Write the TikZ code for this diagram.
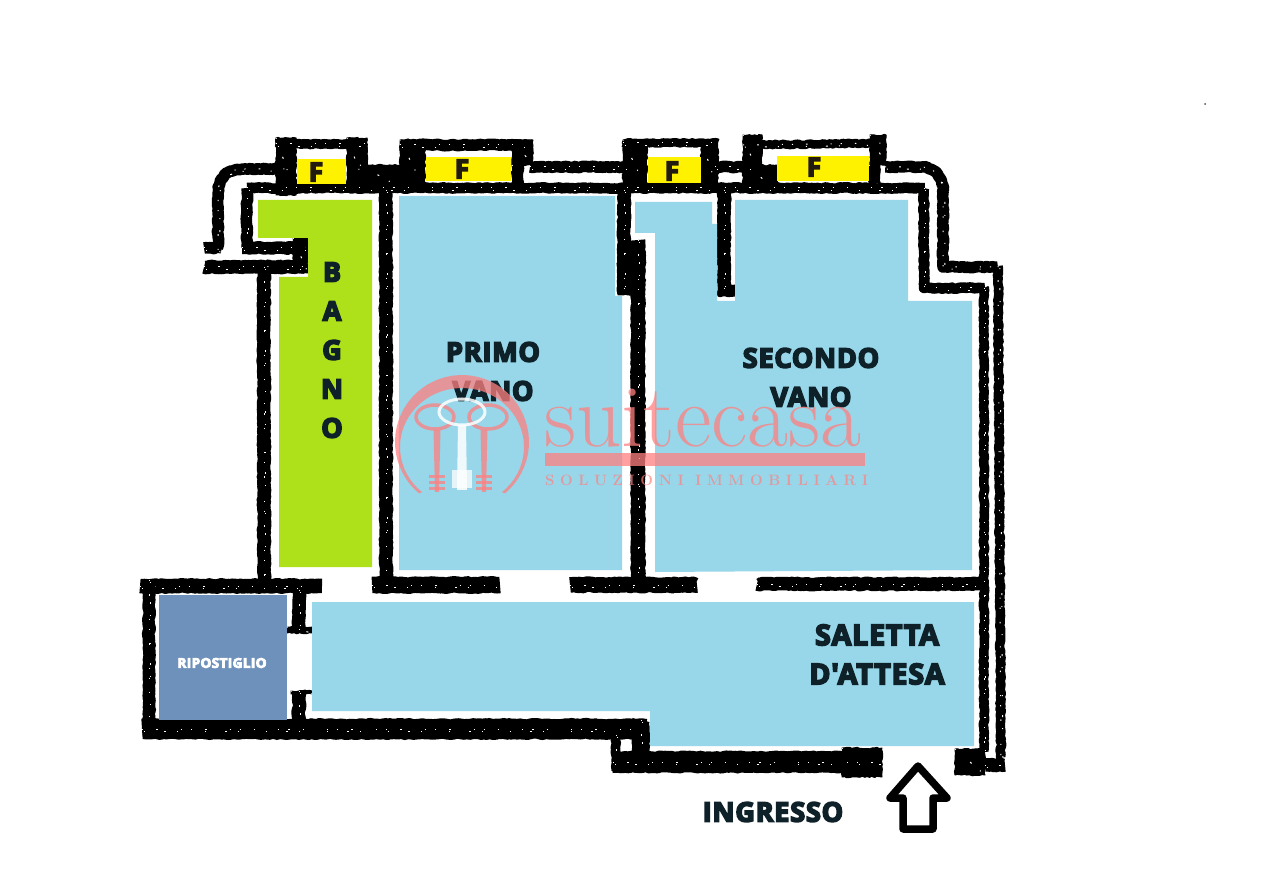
\documentclass[tikz,border=0pt]{standalone}
\usepackage{fontspec}
\usetikzlibrary{decorations.pathmorphing}
\newfontfamily\heavy{Open Sans}[BoldFeatures={FakeBold=6,LetterSpace=3}]
\definecolor{roomblue}{HTML}{97D7E9}
\definecolor{roomgreen}{HTML}{AEE11A}
\definecolor{roomstore}{HTML}{6E91BB}
\definecolor{winyellow}{HTML}{FFF200}
\definecolor{labelink}{HTML}{0E2128}
\definecolor{winink}{HTML}{221B0F}
\definecolor{wmred}{HTML}{FF8080}
\tikzset{
  wall/.style={draw=black,line join=round,decorate,decoration={random steps,segment length=2.5pt,amplitude=0.8pt}},
  speck/.style={draw=white,line width=1pt,dash pattern=on 1.2pt off 13pt on 1.6pt off 23pt on 1pt off 9pt},
  speckb/.style={draw=white,line width=1pt,dash pattern=on 1pt off 19pt on 2pt off 11pt on 1pt off 27pt},
  lab/.style={font=\heavy\bfseries\fontsize{27}{27}\selectfont,text=labelink,inner sep=0pt},
  labbig/.style={lab,font=\heavy\bfseries\fontsize{28.5}{28.5}\selectfont},
  winlab/.style={font=\heavy\bfseries\fontsize{26}{26}\selectfont,text=winink,inner sep=0pt},
  wmfill/.style={fill=wmred,fill opacity=.75,draw=none},
  wmline/.style={draw=wmred,draw opacity=.75},
}
\newcommand{\wall}[2]{\draw[wall,line width=#1pt+1.5pt] #2;\draw[speck] #2;\draw[speckb,shift={(1.8,2.2)}] #2;}
\newcommand{\blk}[2]{\draw[wall,fill=black,line width=1pt] (#1) rectangle (#2);\draw[speckb] (#1) -- (#2);}
\begin{document}
\begin{tikzpicture}[x=1pt,y=-1pt]
\pgfmathsetseed{42}
\useasboundingbox (0,0) rectangle (1262,882);
\fill[white] (0,0) rectangle (1262,882);

% blocks
\blk{276,138}{296,195}\blk{347,138}{367,190}
\blk{400,140}{425,190}\blk{512,140}{533,165}\blk{512,165}{523,190}
\blk{623,140}{647,190}\blk{701,140}{718,190}
\blk{743,135}{762,185}\blk{745,165}{777,190}\blk{870,135}{886,165}\blk{869,165}{880,190}
\blk{360,165}{405,190}
\blk{293,238}{308,273}
\blk{618,245}{645,295}
\blk{718,285}{735,296}
\blk{287,627}{312,633}\blk{291,691}{312,694}
\blk{842,748}{882,777}
\blk{955,749}{985,775}

% walls
\wall{10}{(204,248) -- (222,248)}
\wall{10}{(218,250) -- (218,195) .. controls (218,178) and (226,169) .. (245,169) -- (285,169)}
\wall{10}{(247,248) -- (247,188)}
\wall{11}{(242,248) -- (305,248)}
\wall{12}{(204,267) -- (305,267)}
\wall{12}{(264,267) -- (264,590)}
\wall{9}{(247,188) -- (925,188)}
\wall{8}{(276,144) -- (367,144)}
\wall{10}{(400,145) -- (533,145)}
\wall{7}{(623,143) -- (718,143)}
\wall{7}{(743,145) -- (886,143)}
\wall{10}{(530,167) -- (625,167)}
\wall{10}{(715,167) -- (750,167)}
\wall{10}{(885,167) -- (922,167) .. controls (934,167) and (943,178) .. (943,192) -- (943,267) -- (998,267)}
\wall{12}{(386,190) -- (386,585)}
\wall{12}{(624,190) -- (624,293)}
\wall{13}{(638,240) -- (638,590)}
\wall{12}{(724,190) -- (724,295)}
\wall{9}{(924,188) -- (924,288) -- (985,288)}
\wall{8}{(984,288) -- (984,752)}
\wall{8}{(998,266) -- (1001,758)}
\wall{13}{(140,586) -- (322,586)}
\wall{15}{(372,585) -- (500,585)}
\wall{14}{(570,585) -- (697,585)}
\wall{12}{(757,584) -- (983,584)}
\wall{11}{(149,580) -- (149,735)}
\wall{19}{(142,729) -- (647,729)}
\wall{12}{(299,590) -- (299,630)}
\wall{12}{(299,691) -- (299,722)}
\wall{8}{(616,735) -- (616,772)}
\wall{16}{(641,720) -- (641,760)}
\wall{20}{(613,762) -- (882,762)}
\wall{12}{(985,765) -- (1005,765)}

% rooms
\fill[roomgreen] (258,200) -- (372,200) -- (372,567) -- (279,567) -- (279,277) -- (308,277) -- (308,238) -- (258,238) -- cycle;
\fill[roomblue] (399,196) -- (615,196) -- (615,296) -- (622,296) -- (622,570) -- (399,570) -- cycle;
\fill[roomblue] (635,202) -- (712,202) -- (712,224) -- (717,224) -- (717,301) -- (735,301) -- (735,200) -- (908,200) -- (908,301) -- (972,301) -- (972,570) -- (655,572) -- (655,233) -- (635,233) -- cycle;
\fill[roomblue] (312,602) -- (974,602) -- (974,746) -- (650,746) -- (650,711) -- (312,711) -- cycle;
\fill[roomstore] (159,595) rectangle (287,720);

% windows
\fill[winyellow] (297,159) rectangle (346,184);
\fill[winyellow] (426,157) rectangle (511,181);
\fill[winyellow] (648,157) rectangle (701,183);
\fill[winyellow] (777,156) rectangle (869,181);
\node[winlab] (f1) at (316,172) {F};
\node[winlab] (f2) at (462,169) {F};
\node[winlab] (f3) at (672,171) {F};
\node[winlab] (f4) at (814,167) {F};

% labels
\node[lab] (b1) at (332,272) {B};
\node[lab] (b2) at (332,311) {A};
\node[lab] (b3) at (332,350) {G};
\node[lab] (b4) at (332,389) {N};
\node[lab] (b5) at (332,428) {O};
\node[lab] (primo) at (493,352) {PRIMO};
\node[lab] (vano1) at (493,391) {VANO};
\node[lab] (secondo) at (811,358) {SECONDO};
\node[lab] (vano2) at (811,397) {VANO};
\node[labbig] (saletta) at (877,635) {SALETTA};
\node[labbig] (attesa) at (877,674) {D'ATTESA};
\node[lab] (ingresso) at (773,812) {INGRESSO};
\node[font=\heavy\bfseries\fontsize{13.5}{13.5}\selectfont,text=white,inner sep=0pt] (rip) at (222,663) {RIPOSTIGLIO};

% entrance arrow
\draw[black,line width=7.5pt,line join=round,fill=white] (918,766) -- (947,798) -- (933,798) -- (933,829) -- (903,829) -- (903,798) -- (890,798) -- cycle;

% speck
\fill[black!70] (1205,104) circle (1);

% watermark
\path[wmfill] plot[domain=130:410,samples=50] ({462+67*cos(\x)},{442+67*sin(\x)}) -- plot[domain=410:130,samples=50] ({462+62*cos(\x)},{447+59*sin(\x)}) -- cycle;
\foreach \kx/\hx in {437/435,484/488}{
  \path[wmline,line width=3.5pt] (\hx,417) ellipse [x radius=19,y radius=12];
  \path[wmfill] (\kx-3.5,430) -- (\kx+3.5,430) -- (\kx+2,492) -- (\kx-2,492) -- cycle;
  \foreach \ty in {475,481,487}{
    \path[wmfill] (\kx-8,\ty) rectangle (\kx+8,\ty+3.5);
  }
}
\path[draw=white,draw opacity=.85,line width=3pt] (462,412) ellipse [x radius=23,y radius=13];
\path[fill=white,fill opacity=.85] (458,425) -- (466,425) -- (467,490) -- (457,490) -- cycle;
\path[fill=white,fill opacity=.75] (452,470) rectangle (472,488);
\node[text=wmred,text opacity=.75,inner sep=0pt,anchor=base west,font=\fontsize{89}{89}\selectfont] (wmname) at (544,447) {suitecasa};
\path[wmfill] (545,453) rectangle (865,466);
\node[text=wmred,text opacity=.7,inner sep=0pt,anchor=base west,font=\bfseries\fontsize{15}{15}\selectfont] (wmsub) at (545,486) {\makebox[323pt][s]{S\hfill O\hfill L\hfill U\hfill Z\hfill I\hfill O\hfill N\hfill I\hfill\hfill I\hfill M\hfill M\hfill O\hfill B\hfill I\hfill L\hfill I\hfill A\hfill R\hfill I}};
\end{tikzpicture}
\end{document}
